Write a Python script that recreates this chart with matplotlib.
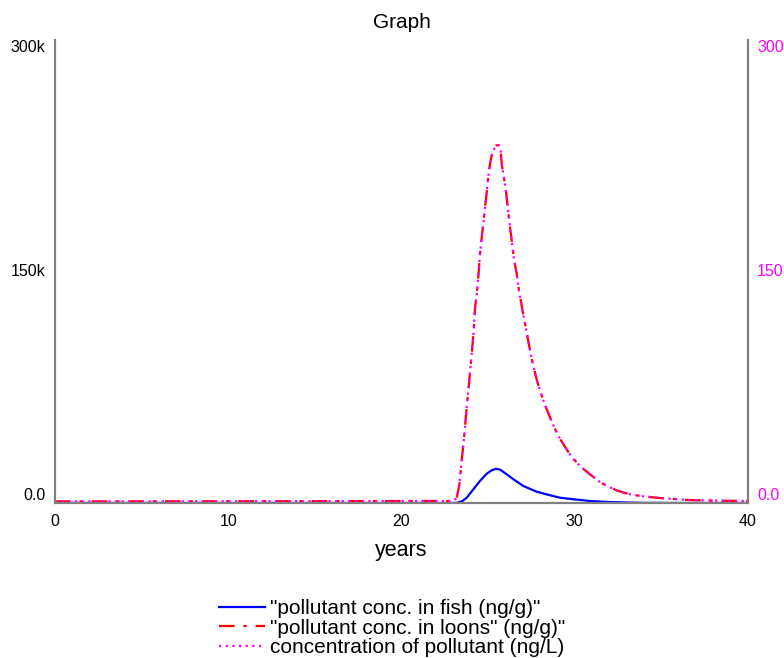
import matplotlib.pyplot as plt

plt.rcParams['font.family'] = ['Liberation Sans', 'DejaVu Sans']

# values (years, thousands ng/g)
fish_t = [0, 23.0, 23.2, 23.5, 23.76, 24.15, 24.53, 24.92, 25.21, 25.45,
          25.69, 26.07, 26.45, 27.03, 27.8, 28.57, 29.15, 29.92, 30.88,
          31.84, 33.8, 36.0, 40]
fish_k = [0, 0, 0.1, 1.2, 3.4, 8.9, 14.3, 19.0, 21.2, 22.1,
          21.6, 18.6, 15.4, 11.0, 7.3, 5.0, 3.4, 2.4, 1.3,
          0.65, 0.1, 0, 0]

loons_t = [0, 23.0, 23.19, 23.34, 23.47, 23.61, 23.76, 23.91, 24.05, 24.15,
           24.24, 24.34, 24.43, 24.53, 24.63, 24.72, 24.82, 24.92, 25.01,
           25.11, 25.21, 25.30, 25.45, 25.6, 25.72, 25.78, 25.88, 26.01,
           26.13, 26.26, 26.36, 26.49, 26.65, 26.78, 26.94, 27.23, 27.51,
           27.80, 28.0, 28.28, 28.57, 28.86, 29.15, 29.54, 29.92, 30.40,
           30.88, 31.36, 31.84, 32.51, 33.19, 33.96, 34.73, 35.69, 36.65,
           38.0, 39.54, 40]
loons_k = [1.0, 1.3, 3.4, 12.1, 27.3, 42.4, 61.9, 79.2, 96.5, 109.5,
           125.8, 135.5, 146.3, 161.5, 172, 181, 191.8, 201.5, 212,
           220, 225.3, 228.6, 231.5, 232, 229.6, 220, 213, 203.7,
           191.8, 178.8, 170, 158, 148.5, 137.7, 127.5, 110, 93.5,
           80, 72.5, 63.5, 55.5, 47.9, 41.5, 34.5, 28.6, 22.9,
           18.6, 14.3, 11.0, 7.8, 5.6, 4.3, 3.4, 2.6, 1.9,
           1.5, 1.3, 1.3]

# concentration of pollutant (ng/L), right axis, lies on the loons curve
conc_t = list(loons_t)
conc = [1.0, 1.3, 3.4, 12.1, 27.3, 42.4, 61.9, 79.2, 96.5, 109.5,
        125.8, 135.5, 146.3, 161.5, 172, 181, 191.8, 201.5, 212,
        220, 225.3, 228.6, 231.5, 232, 229.6, 220, 213, 203.7,
        191.8, 178.8, 170, 158, 148.5, 137.7, 127.5, 110, 93.5,
        80, 72.5, 63.5, 55.5, 47.9, 41.5, 34.5, 28.6, 22.9,
        18.6, 14.3, 11.0, 7.8, 5.6, 4.3, 3.4, 2.6, 1.9,
        1.5, 1.3, 1.3]

x_ticks = [0, 10, 20, 30, 40]
left_ticks = [0, 150000, 300000]
left_labels = ['0.0', '150k', '300k']
right_ticks = [0, 150, 300]
right_labels = ['0.0', '150', '300']

fig = plt.figure(figsize=(7.84, 6.58), dpi=100)
ax = fig.add_axes([0.0702, 0.2356, 0.8839, 0.7036])
ax2 = ax.twinx()

l1, = ax.plot(fish_t, [v * 1000 for v in fish_k], color='#0000ff', lw=1.6,
              label='"pollutant conc. in fish (ng/g)"', zorder=3)
l2, = ax.plot(loons_t, [v * 1000 for v in loons_k], color='#ff0000', lw=1.6,
              linestyle=(0, (7, 4, 1.5, 4)),
              label='"pollutant conc. in loons" (ng/g)"', zorder=3)
l3, = ax2.plot(conc_t, conc, color='#ff00ff', lw=1.6, linestyle=(0, (1, 2)),
               label='concentration of pollutant (ng/L)')

ax.set_xlim(0, 40)
ax.set_ylim(0, 300000)
ax2.set_ylim(0, 300)

for a in (ax, ax2):
    a.spines['top'].set_visible(False)
    for s in ('left', 'right', 'bottom'):
        a.spines[s].set_color('#808080')
        a.spines[s].set_linewidth(1.5)

ax.set_xticks(x_ticks)
ax.tick_params(axis='x', length=0, pad=8, labelsize=11.5)
ax.set_yticks(left_ticks)
ax.set_yticklabels(left_labels)
ax.tick_params(axis='y', length=0, pad=7, labelsize=11.5)
ax2.set_yticks(right_ticks)
ax2.set_yticklabels(right_labels)
ax2.tick_params(axis='y', length=0, pad=6.5, labelsize=11.5,
                labelcolor='#ff00ff')

for a in (ax, ax2):
    labs = a.get_yticklabels()
    labs[0].set_va('bottom')
    labs[1].set_va('center')
    labs[2].set_va('top')

ax.set_title('Graph', fontsize=15, pad=9)
ax.set_xlabel('years', fontsize=15.5, labelpad=8)

fig.legend(handles=[l1, l2, l3], loc='upper center',
           bbox_to_anchor=(0.5, 0.118), frameon=False, fontsize=15,
           handlelength=2.2, handletextpad=0.25, labelspacing=0.02)

fig.savefig('out.png', dpi=100)
